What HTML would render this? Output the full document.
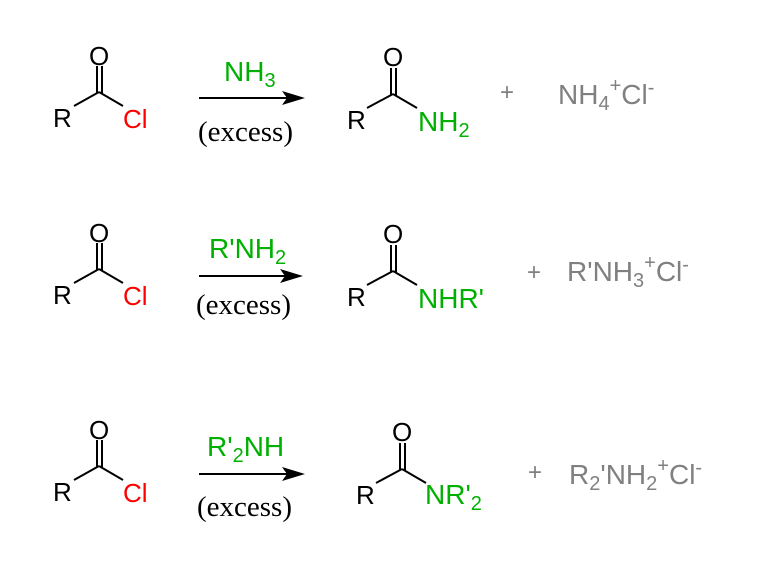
<!DOCTYPE html>
<html><head><meta charset="utf-8"><style>
html,body{margin:0;padding:0;background:#fff;}
svg{display:block;}
</style></head><body>
<svg width="768" height="568" viewBox="0 0 768 568" xmlns="http://www.w3.org/2000/svg" font-family="Liberation Sans, sans-serif" font-size="28">
<defs>
<g id="acyl">
<line x1="74" y1="106" x2="99" y2="92" stroke="#000" stroke-width="2"/>
<line x1="99" y1="92" x2="123" y2="106" stroke="#000" stroke-width="2"/>
<line x1="97" y1="66" x2="97" y2="93" stroke="#000" stroke-width="2"/>
<line x1="102" y1="66" x2="102" y2="93" stroke="#000" stroke-width="2"/>
<text x="89" y="65" fill="#000" font-size="26">O</text>
<text x="53" y="127" fill="#000" font-size="26">R</text>
<text x="123" y="128" fill="#ff0000" font-size="26">Cl</text>
</g>
<g id="amide">
<line x1="0" y1="0" x2="26" y2="-14" stroke="#000" stroke-width="2"/>
<line x1="26" y1="-14" x2="50" y2="0" stroke="#000" stroke-width="2"/>
<line x1="24" y1="-40" x2="24" y2="-13" stroke="#000" stroke-width="2"/>
<line x1="29" y1="-40" x2="29" y2="-13" stroke="#000" stroke-width="2"/>
<text x="16" y="-42" fill="#000" font-size="26">O</text>
<text x="-20" y="21" fill="#000" font-size="26">R</text>
</g>
</defs>
<!-- row 1 -->
<use href="#acyl"/>
<line x1="199" y1="98" x2="290" y2="98" stroke="#000" stroke-width="2"/><polygon points="305,98 282,91 287,98 282,105" fill="#000"/>
<text x="224" y="81" fill="#00b000">NH<tspan font-size="20" dy="6">3</tspan></text>
<text x="198" y="141" fill="#000" font-family="Liberation Serif, serif" font-size="29">(excess)</text>
<use href="#amide" x="367" y="108"/>
<text x="418" y="131" fill="#00b000">NH<tspan font-size="20" dy="6">2</tspan></text>
<text x="500" y="100" fill="#808080" font-size="24">+</text>
<text x="558" y="104" fill="#808080">NH<tspan font-size="20" dy="6">4</tspan><tspan font-size="20" dy="-18">+</tspan><tspan dy="12">Cl</tspan><tspan font-size="20" dy="-10">-</tspan></text>
<!-- row 2 -->
<use href="#acyl" y="177"/>
<line x1="199" y1="276" x2="288" y2="276" stroke="#000" stroke-width="2"/><polygon points="303,276 280,269 285,276 280,283" fill="#000"/>
<text x="209" y="258" fill="#00b000">R'NH<tspan font-size="20" dy="6">2</tspan></text>
<text x="196" y="314" fill="#000" font-family="Liberation Serif, serif" font-size="29">(excess)</text>
<use href="#amide" x="367" y="285"/>
<text x="418" y="308" fill="#00b000">NHR'</text>
<text x="527" y="280" fill="#808080" font-size="24">+</text>
<text x="567" y="281" fill="#808080">R'NH<tspan font-size="20" dy="6">3</tspan><tspan font-size="20" dy="-18">+</tspan><tspan dy="12">Cl</tspan><tspan font-size="20" dy="-10">-</tspan></text>
<!-- row 3 -->
<use href="#acyl" y="374"/>
<line x1="199" y1="474" x2="290" y2="474" stroke="#000" stroke-width="2"/><polygon points="305,474 282,467 287,474 282,481" fill="#000"/>
<text x="207" y="456" fill="#00b000">R'<tspan font-size="20" dy="6">2</tspan><tspan dy="-6">NH</tspan></text>
<text x="197" y="516" fill="#000" font-family="Liberation Serif, serif" font-size="29">(excess)</text>
<use href="#amide" x="376" y="483"/>
<text x="425" y="504" fill="#00b000">NR'<tspan font-size="20" dy="6">2</tspan></text>
<text x="528" y="480" fill="#808080" font-size="24">+</text>
<text x="569" y="484" fill="#808080">R<tspan font-size="20" dy="6">2</tspan><tspan dy="-6">'NH</tspan><tspan font-size="20" dy="6">2</tspan><tspan font-size="20" dy="-18">+</tspan><tspan dy="12">Cl</tspan><tspan font-size="20" dy="-10">-</tspan></text>
</svg>
</body></html>
